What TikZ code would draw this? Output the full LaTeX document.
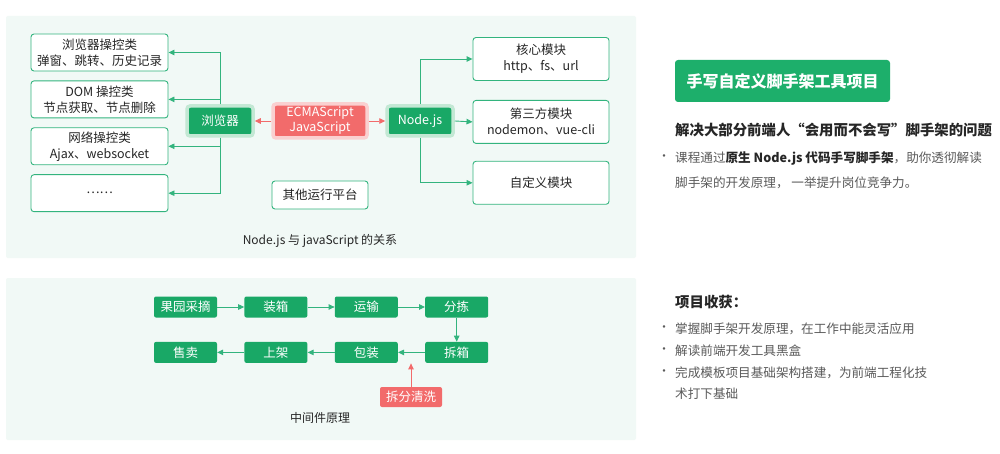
\documentclass[tikz,border=0pt]{standalone}
\usepackage{fontspec}
\setmainfont{Noto Sans CJK SC}
\usepackage{xcolor}
\usetikzlibrary{arrows.meta,positioning,calc}
\definecolor{ndGreen}{HTML}{19A866}
\definecolor{ndLine}{HTML}{33B47E}
\definecolor{ndGlow}{HTML}{C3E8D4}
\definecolor{ndRed}{HTML}{F26B6B}
\definecolor{ndRedGlow}{HTML}{FAD0D0}
\definecolor{ndPanel}{HTML}{F1F9F6}
\definecolor{ndInk}{HTML}{262626}
\definecolor{ndGray}{HTML}{5A5A5A}
\definecolor{ndTitle}{HTML}{1DAF6B}
\tikzset{
  % White box, green border
  wbox/.style={rectangle,rounded corners=3pt,
    minimum width=137pt,minimum height=37pt,inner sep=0pt,
    align=center,draw=ndLine,line width=0.9pt,fill=white,
    font=\fontsize{12.5}{16}\selectfont,text=ndInk},
  % Green box with pale rim
  gbox/.style={rectangle,rounded corners=3pt,
    minimum width=66pt,minimum height=30pt,inner sep=0pt,
    align=center,draw=ndGlow,line width=3.5pt,fill=ndGreen,
    font=\fontsize{12.5}{16}\selectfont,text=white},
  % Red box with pale rim
  rbox/.style={rectangle,rounded corners=3pt,
    minimum width=94pt,minimum height=34pt,inner sep=0pt,
    align=center,draw=ndRedGlow,line width=3.5pt,fill=ndRed,
    font=\fontsize{12.5}{15}\selectfont,text=white},
  % Small step box (green)
  sbox/.style={rectangle,rounded corners=2pt,
    minimum width=63pt,minimum height=21pt,inner sep=0pt,
    align=center,fill=ndGreen,
    font=\fontsize{12.5}{15}\selectfont,text=white},
  % Small step box (red)
  rsbox/.style={sbox,fill=ndRed,minimum width=62pt,minimum height=20pt},
  % Title box
  tbox/.style={rectangle,rounded corners=3pt,
    minimum width=215pt,minimum height=42pt,inner sep=0pt,
    fill=ndTitle,font=\fontsize{16}{19}\bfseries,text=white},
  % Texts
  captext/.style={font=\fontsize{12}{15}\selectfont,text=ndInk},
  headtext/.style={anchor=west,inner sep=0pt,
    font=\fontsize{14.4}{17}\bfseries,text=ndInk},
  bodytext/.style={anchor=west,inner sep=0pt,
    font=\fontsize{12.6}{15}\selectfont,text=ndGray},
  bulletdot/.style={inner sep=0pt,font=\fontsize{12}{14}\selectfont,text=ndGray},
  % Arrows
  arr/.style={-{Triangle[length=6pt,width=5.5pt]},line width=0.9pt,color=ndLine},
  rarr/.style={-{Triangle[length=6pt,width=5.5pt]},line width=0.9pt,color=ndRed},
}
\begin{document}
\begin{tikzpicture}[x=1pt,y=-1pt]
  \useasboundingbox[fill=white] (0,0) rectangle (1000,454);
  \fill[ndPanel,rounded corners=2pt] (6,16) rectangle (636,258);
  \fill[ndPanel,rounded corners=2pt] (6,278) rectangle (636,440);

  % Node.js and JavaScript
  \node[gbox] (brw) at (220,121) {浏览器};
  \node[rbox] (ecma) at (320,121) {ECMAScript\\JavaScript};
  \node[gbox] (njs) at (420,121) {Node.js};

  \node[wbox] (bom) at (99.5,52.5) {浏览器操控类\\弹窗、跳转、历史记录};
  \node[wbox,below=9pt of bom] (dom) {DOM 操控类\\节点获取、节点删除};
  \node[wbox,below=9pt of dom] (net) {网络操控类\\Ajax、websocket};
  \node[wbox,below=9pt of net] (more) {……};

  \node[wbox,minimum width=136pt,minimum height=43pt] (core) at (541,59)
    {核心模块\\http、fs、url};
  \node[wbox,minimum width=136pt,minimum height=43pt,below=19pt of core] (third)
    {第三方模块\\nodemon、vue-cli};
  \node[wbox,minimum width=136pt,minimum height=43pt,below=17pt of third] (own)
    {自定义模块};

  \node[wbox,minimum width=96pt,minimum height=28pt] (other) at (320,195) {其他运行平台};
  \node[captext] (relcap) at (320,241) {Node.js 与 javaScript 的关系};

  \draw[rarr] (ecma.west) -- (brw.east);
  \draw[rarr] (ecma.east) -- (njs.west);
  \draw[arr] (brw.north) |- (bom.east);
  \draw[arr] (brw.north) |- (dom.east);
  \draw[arr] (brw.south) |- (net.east);
  \draw[arr] (brw.south) |- (more.east);
  \draw[arr] (njs.north) |- (core.west);
  \draw[arr] (njs.east) -- (third.west);
  \draw[arr] (njs.south) |- (own.west);

  % Middleware
  \node[sbox] (pick) at (185.5,307) {果园采摘};
  \node[sbox,right=27pt of pick] (boxing) {装箱};
  \node[sbox,right=27pt of boxing] (ship) {运输};
  \node[sbox,right=27pt of ship] (sort) {分拣};
  \node[sbox,below=24pt of sort] (unbox) {拆箱};
  \node[sbox,left=27pt of unbox] (pack) {包装};
  \node[sbox,left=27pt of pack] (shelf) {上架};
  \node[sbox,left=27pt of shelf] (sell) {售卖};
  \node[rsbox] (clean) at (411,397) {拆分清洗};
  \coordinate (hit) at ($(pack.east)!0.5!(unbox.west)+(0,11)$);
  \node[captext] (midcap) at (320,418) {中间件原理};

  \draw[arr] (pick) -- (boxing);
  \draw[arr] (boxing) -- (ship);
  \draw[arr] (ship) -- (sort);
  \draw[arr] (sort) -- (unbox);
  \draw[arr] (unbox) -- (pack);
  \draw[arr] (pack) -- (shelf);
  \draw[arr] (shelf) -- (sell);
  \draw[rarr] (clean.north) -- (clean.north |- hit);

  % Project text
  \node[tbox] (title) at (782.5,81) {手写自定义脚手架工具项目};
  \node[headtext] (solve) at (675,130) {解决大部分前端人“会用而不会写”脚手架的问题};
  \node[bulletdot] (d1) at (664,158) {·};
  \node[bodytext] (l1) at (675,158)
    {课程通过\textcolor{ndInk}{\bfseries 原生 Node.js 代码手写脚手架}，助你透彻解读};
  \node[bodytext] (l2) at (675,183) {脚手架的开发原理， 一举提升岗位竞争力。};

  \node[headtext] (gain) at (675,302) {项目收获：};
  \node[bulletdot] (d2) at (664,329) {·};
  \node[bodytext] (g1) at (675,329) {掌握脚手架开发原理，在工作中能灵活应用};
  \node[bulletdot] (d3) at (664,351) {·};
  \node[bodytext] (g2) at (675,351) {解读前端开发工具黑盒};
  \node[bulletdot] (d4) at (664,373) {·};
  \node[bodytext] (g3) at (675,373) {完成模板项目基础架构搭建，为前端工程化技};
  \node[bodytext] (g4) at (675,394) {术打下基础};
\end{tikzpicture}
\end{document}
